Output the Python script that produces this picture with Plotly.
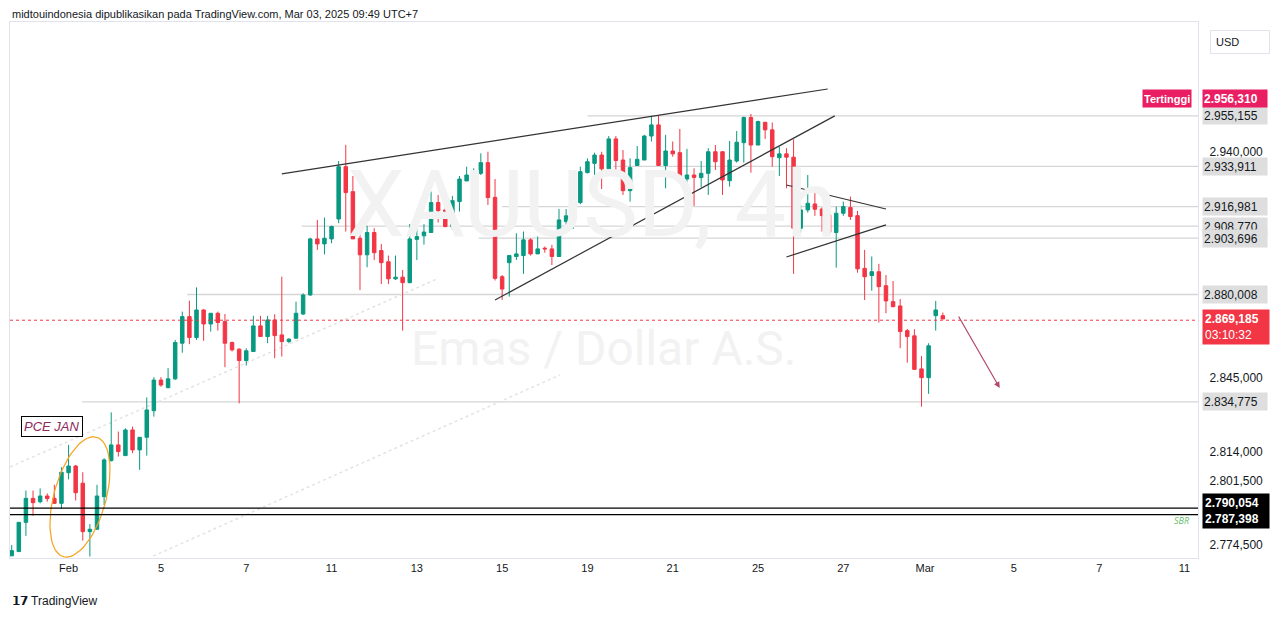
import numpy as np
import plotly.graph_objects as go

opens = [2770.0,2771.8,2784.1,2794.2,2792.8,2795.2,2794.2,2792.1,2805.0,2807.8,2800.6,2780.2,2781.2,2794.9,2810.1,2816.7,2812.2,2823.0,2814.6,2819.9,
 2831.1,2844.0,2840.8,2844.5,2859.5,2870.7,2861.9,2873.5,2867.6,2872.1,2868.6,2859.8,2857.0,2852.2,2856.0,2866.8,2862.3,2869.3,2863.0,2860.2,
 2861.6,2871.8,2879.8,2903.4,2901.3,2903.4,2911.8,2933.8,2923.3,2903.7,2896.7,2906.1,2898.5,2893.8,2886.6,2887.3,2885.0,2903.2,2904.7,2906.1,
 2918.7,2915.6,2908.6,2919.1,2927.8,2930.0,2931.0,2935.5,2920.9,2887.5,2893.4,2896.0,2896.4,2903.0,2897.1,2899.5,2899.2,2896.0,2910.7,2912.8,
 2918.7,2931.3,2935.2,2938.7,2932.9,2945.5,2936.6,2923.7,2934.3,2936.6,2946.7,2951.4,2934.3,2940.4,2939.7,2928.6,2930.3,2929.2,2931.0,2940.1,
 2940.1,2927.9,2936.2,2943.9,2954.5,2942.9,2952.5,2949.3,2937.6,2939.2,2937.8,2907.9,2915.6,2918.1,2916.0,2913.5,2906.1,2914.2,2916.6,2913.2,
 2891.0,2888.0,2889.6,2883.7,2877.0,2875.2,2864.8,2862.6,2848.7,2845.0,2871.1,2871.1]
highs = [2774.6,2784.1,2797.5,2797.5,2798.4,2796.3,2799.9,2807.3,2816.7,2808.3,2805.2,2783.4,2799.9,2811.1,2830.4,2822.3,2823.7,2824.4,2819.9,2836.7,
 2845.2,2845.2,2849.0,2860.9,2872.8,2877.4,2883.0,2873.8,2872.1,2872.8,2871.8,2860.2,2857.4,2857.4,2871.0,2871.0,2871.0,2871.7,2887.5,2861.6,
 2877.0,2880.5,2903.9,2911.4,2912.4,2909.0,2936.2,2943.0,2929.9,2907.9,2908.9,2907.9,2901.3,2896.4,2896.4,2890.3,2909.7,2909.3,2909.6,2923.3,
 2921.9,2917.7,2921.5,2929.9,2933.8,2933.1,2939.4,2940.1,2928.6,2888.2,2896.7,2905.8,2906.5,2903.7,2904.4,2900.2,2900.9,2916.0,2916.0,2920.1,
 2933.8,2937.3,2939.7,2940.1,2946.7,2946.7,2940.8,2937.3,2942.5,2947.2,2955.2,2955.2,2947.2,2944.4,2949.7,2941.3,2933.1,2936.2,2941.6,2942.9,
 2940.4,2944.6,2948.8,2954.9,2956.0,2953.2,2952.5,2952.4,2942.3,2941.6,2945.3,2917.7,2930.3,2923.3,2916.7,2916.7,2917.0,2919.1,2921.2,2915.2,
 2898.8,2896.0,2892.9,2888.2,2885.7,2878.1,2865.5,2865.4,2854.1,2859.5,2877.3,2872.4]
lows = [2770.0,2771.8,2778.4,2786.9,2792.1,2792.8,2792.1,2789.9,2802.2,2793.3,2776.4,2769.7,2781.2,2791.4,2809.7,2811.8,2812.2,2813.2,2806.2,2812.2,
 2828.6,2841.2,2840.5,2844.0,2855.5,2859.1,2860.9,2860.5,2864.4,2864.8,2849.4,2856.0,2834.2,2850.1,2856.0,2862.3,2859.5,2853.2,2853.9,2859.5,
 2861.6,2871.4,2879.5,2898.8,2896.9,2901.6,2910.0,2906.5,2903.4,2881.9,2891.5,2894.5,2884.4,2884.4,2886.1,2864.8,2884.7,2894.5,2901.0,2906.1,
 2910.3,2908.3,2907.2,2914.9,2927.8,2923.7,2930.3,2917.7,2885.9,2877.7,2879.1,2894.5,2888.7,2896.4,2897.1,2897.6,2892.4,2896.0,2909.3,2907.6,
 2918.0,2931.0,2928.6,2924.4,2931.0,2931.7,2921.9,2919.1,2934.3,2936.6,2944.4,2934.3,2924.7,2938.0,2927.5,2924.7,2917.3,2925.1,2921.9,2932.4,
 2921.9,2925.4,2935.5,2935.5,2931.3,2942.9,2945.5,2933.8,2929.9,2924.7,2888.7,2906.1,2914.5,2913.1,2906.5,2906.2,2891.3,2913.1,2911.4,2889.2,
 2877.7,2881.6,2868.2,2872.1,2874.6,2857.4,2851.3,2848.3,2832.8,2838.2,2864.8,2869.7]
closes = [2772.2,2784.1,2794.2,2792.4,2795.2,2794.1,2792.1,2805.2,2807.8,2796.6,2780.2,2781.2,2795.2,2810.4,2816.7,2813.9,2823.0,2814.6,2819.9,2831.4,
 2844.0,2841.9,2844.5,2859.8,2870.7,2861.9,2873.5,2867.6,2872.1,2868.2,2859.5,2856.7,2852.2,2856.3,2866.8,2862.3,2869.3,2862.7,2860.2,2861.2,
 2872.1,2879.8,2903.4,2901.3,2903.7,2908.6,2933.8,2922.9,2903.4,2896.7,2906.1,2897.6,2893.4,2886.6,2887.3,2885.0,2903.4,2904.4,2906.3,2918.7,
 2915.3,2908.6,2919.5,2928.6,2930.3,2931.3,2935.5,2920.8,2886.8,2882.3,2896.4,2897.1,2903.0,2897.1,2899.2,2899.2,2896.0,2911.4,2913.1,2918.8,
 2931.7,2935.9,2938.7,2932.9,2945.5,2936.4,2923.7,2933.4,2936.9,2946.7,2951.4,2934.3,2940.4,2939.2,2928.6,2930.3,2929.3,2931.0,2940.1,2935.9,
 2928.2,2936.6,2944.1,2954.5,2942.9,2952.8,2949.3,2938.0,2939.2,2937.8,2907.9,2915.6,2918.4,2915.9,2913.2,2906.2,2914.2,2917.0,2912.8,2890.8,
 2887.5,2889.6,2883.3,2877.3,2874.9,2864.4,2862.3,2848.5,2845.0,2858.4,2873.5,2869.7]

tick_pos = [8, 21, 33, 45, 57, 69, 81, 93, 105, 117, 128.5, 141, 153, 165]
tick_text = ["Feb", "5", "7", "11", "13", "15", "19", "21", "25", "27", "Mar", "5", "7", "11"]

ytick_vals = [2940, 2845, 2814, 2801.5, 2774.5]
level_prices = [2955.155, 2933.911, 2916.981, 2908.770, 2903.696, 2880.008, 2834.775]
level_starts = [81, 84.6, 69, 40.8, 65.7, 24.7, 9.9]
support_prices = [2790.054, 2787.398]
last_price = 2869.185
high_price = 2956.310

def fmt(v):
    s = f"{v:,.3f}"
    return s.replace(",", "X").replace(".", ",").replace("X", ".")

x = list(range(len(opens)))
X0, X1 = -0.24, 166.9
Y0, Y1 = 2769.1, 2994.7
PX_PER_PRICE = 1 / 0.4209

fig = go.Figure()
GREEN, RED = "#089981", "#f23645"

shapes = []
for p, s in zip(level_prices, level_starts):
    shapes.append(dict(type="line", xref="x", yref="y", x0=s, x1=X1, y0=p, y1=p,
                       line=dict(color="#d6d6d6", width=1.3), layer="below"))
for p in support_prices:
    shapes.append(dict(type="line", xref="paper", yref="y", x0=0, x1=1, y0=p, y1=p,
                       line=dict(color="#000000", width=1.3)))
shapes.append(dict(type="line", xref="paper", yref="y", x0=0, x1=1, y0=last_price, y1=last_price,
                   line=dict(color=RED, width=1, dash="dot")))
for (a, b, c, d) in [(-0.24, 2807.4, 59.8, 2886.5), (19.9, 2769.9, 77.1, 2846.1)]:
    shapes.append(dict(type="line", x0=a, y0=b, x1=c, y1=d, line=dict(color="#e3e3e3", width=1.5, dash="dot"), layer="below"))
for (a, b, c, d) in [(38.0, 2930.8, 114.8, 2966.5), (68.0, 2877.7, 115.8, 2955.2),
                     (109.0, 2926.1, 123.0, 2916.0), (109.0, 2895.8, 123.0, 2909.3)]:
    shapes.append(dict(type="line", x0=a, y0=b, x1=c, y1=d, line=dict(color="#333333", width=1.2)))

t = np.linspace(0, 2 * np.pi, 80)
ang = np.deg2rad(15.5)
ex, ey = 26 * np.cos(t), 62 * np.sin(t)
px = 80 + ex * np.cos(ang) - ey * np.sin(ang)
py = 497 + ex * np.sin(ang) + ey * np.cos(ang)
ix = (px - 11.7) / 7.11
iy = 2955.155 - (py - 116) * 0.4209
fig.add_trace(go.Scatter(x=ix, y=iy, mode="lines", line=dict(color="#f7a21b", width=1.2),
                         hoverinfo="skip", showlegend=False))

fig.add_trace(go.Candlestick(x=x, open=opens, high=highs, low=lows, close=closes,
                             increasing=dict(line=dict(color=GREEN, width=1), fillcolor=GREEN),
                             decreasing=dict(line=dict(color=RED, width=1), fillcolor=RED),
                             whiskerwidth=0, showlegend=False))

ann = []
ann.append(dict(text="XAUUSD, 4h", x=0.49, y=0.66, xref="paper", yref="paper", showarrow=False,
                font=dict(size=92, color="#f2f2f2", family="Roboto")))
ann.append(dict(text="Emas / Dollar A.S.", x=0.50, y=0.39, xref="paper", yref="paper", showarrow=False,
                font=dict(size=48, color="#f2f2f2", family="Roboto")))
ann.append(dict(x=139.0, y=2840.7, ax=133.1, ay=2871.4, xref="x", yref="y", axref="x", ayref="y",
                text="", showarrow=True, arrowhead=2, arrowsize=1, arrowwidth=1.2, arrowcolor="#b2466f"))
ann.append(dict(text="<i>PCE JAN</i>", x=5.6, y=2824.3, showarrow=False, bordercolor="#000", borderwidth=1,
                bgcolor="white", borderpad=2, font=dict(size=13, color="#8c2a5a", family="Liberation Sans")))
ann.append(dict(text="<i>SBR</i>", x=0.995, y=2785.0, xref="paper", yref="y", showarrow=False, xanchor="right",
                font=dict(size=9, color="#66bb6a")))

def box(p, txt, bg, fg, bold=False, shift=0):
    ann.append(dict(text=("<b>%s</b>" % txt) if bold else txt, x=1.003, y=p, xref="paper", yref="y", xanchor="left",
                    yshift=shift, showarrow=False, bgcolor=bg, font=dict(size=12, color=fg, family="Liberation Sans"),
                    borderpad=1, width=62, height=15, align="left"))
for p in level_prices:
    box(p, fmt(p), "#dedede", "#131722")
box(high_price, fmt(high_price), "#e91e63", "#ffffff", True, shift=15)
ann.append(dict(text="<b>Tertinggi</b>", x=0.998, y=high_price, xref="paper", yref="y", xanchor="right", xshift=-4,
                yshift=15, showarrow=False, bgcolor="#e91e63", font=dict(size=11, color="white", family="Liberation Sans"),
                borderpad=1, height=15))
ann.append(dict(text="<b>%s</b><br>03:10:32" % fmt(last_price), x=1.003, y=last_price - 2.8, xref="paper", yref="y",
                xanchor="left", showarrow=False, bgcolor=RED, font=dict(size=12, color="white", family="Liberation Sans"),
                borderpad=2, width=62, align="left"))
ann.append(dict(text="<b>%s</b><br><b>%s</b>" % (fmt(support_prices[0]), fmt(support_prices[1])), x=1.003,
                y=sum(support_prices) / 2, xref="paper", yref="y", xanchor="left", showarrow=False, bgcolor="#000000",
                font=dict(size=12, color="white", family="Liberation Sans"), borderpad=2, width=62, align="left"))
ann.append(dict(text="USD", x=1.01, y=0.985, xref="paper", yref="paper", xanchor="left", yanchor="top", showarrow=False,
                bordercolor="#e0e3eb", borderwidth=1, borderpad=5, width=48, align="left",
                font=dict(size=11, color="#131722", family="Liberation Sans")))
ann.append(dict(text="midtouindonesia dipublikasikan pada TradingView.com, Mar 03, 2025 09:49 UTC+7",
                x=0, y=1.0, xref="paper", yref="paper", xanchor="left", yanchor="middle", yshift=8, showarrow=False,
                font=dict(size=11, color="#131722", family="Liberation Sans")))
ann.append(dict(text="<b>𝟭𝟳</b> TradingView", x=0, y=0, xref="paper", yref="paper", xanchor="left", yanchor="top",
                yshift=-34, showarrow=False, font=dict(size=12, color="#131722", family="Liberation Sans")))

fig.update_layout(
    width=1281, height=619, margin=dict(l=2, r=91, t=14, b=69),
    paper_bgcolor="white", plot_bgcolor="white", shapes=shapes, annotations=ann,
    xaxis=dict(range=[X0, X1], tickvals=tick_pos, ticktext=tick_text, showgrid=False, zeroline=False,
               rangeslider=dict(visible=False), tickfont=dict(size=11, color="#131722", family="Liberation Sans"),
               ticks="", showline=True, linecolor="#e0e3eb", mirror=True),
    yaxis=dict(range=[Y0, Y1], side="right", tickvals=ytick_vals, ticktext=[fmt(v) for v in ytick_vals],
               showgrid=False, zeroline=False, ticks="", ticklabelstandoff=8,
               tickfont=dict(size=12, color="#131722", family="Liberation Sans"),
               showline=True, linecolor="#e0e3eb", mirror=True),
    hovermode=False,
)
fig.write_html("out.html")
